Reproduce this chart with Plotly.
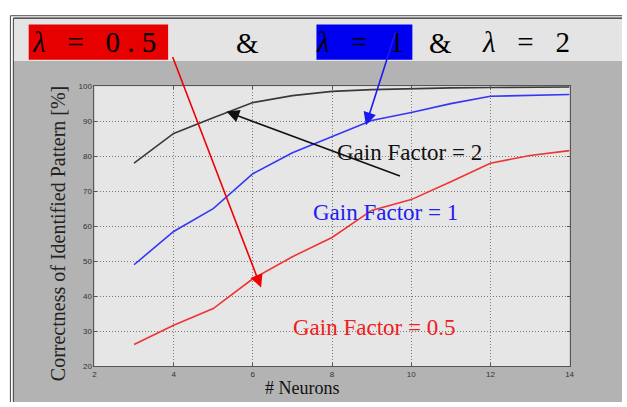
import plotly.graph_objects as go

W, H = 627, 407

neurons = [3, 4, 5, 6, 7, 8, 9, 10, 11, 12, 13, 14]
gain_2 = [78, 86.5, 91, 95.3, 97.3, 98.5, 99, 99.3, 99.5, 99.6, 99.7, 99.8]
gain_1 = [49, 58.5, 65, 75, 81, 85.7, 90.2, 92.5, 95, 97.1, 97.3, 97.6]
gain_05 = [26.2, 31.7, 36.5, 45, 51.3, 56.8, 64.5, 67.6, 72.7, 78, 80.2, 81.6]

x_ticks = [2, 4, 6, 8, 10, 12, 14]
y_ticks = [20, 30, 40, 50, 60, 70, 80, 90, 100]

SERIF = "Liberation Serif, Times New Roman, serif"


def px(x):
    return x / W


def py(y):
    return 1 - y / H


fig = go.Figure()
fig.add_trace(go.Scatter(x=neurons, y=gain_2, mode="lines",
                         line=dict(color="#3a3a3a", width=1.6), showlegend=False))
fig.add_trace(go.Scatter(x=neurons, y=gain_1, mode="lines",
                         line=dict(color="#3636f5", width=1.6), showlegend=False))
fig.add_trace(go.Scatter(x=neurons, y=gain_05, mode="lines",
                         line=dict(color="#f03434", width=1.6), showlegend=False))

shapes = [
    # dark gray figure background
    dict(type="rect", xref="paper", yref="paper", x0=px(11), x1=1, y0=0, y1=py(58),
         fillcolor="#b3b3b3", line=dict(width=0), layer="below"),
    # plot area background
    dict(type="rect", xref="paper", yref="paper", x0=px(93.5), x1=px(574), y0=py(370.5), y1=py(84),
         fillcolor="#e6e6e6", line=dict(width=0), layer="below"),
    # light header band
    dict(type="rect", xref="paper", yref="paper", x0=px(11), x1=1, y0=py(58), y1=py(15),
         fillcolor="#e4e4e4", line=dict(width=0), layer="below"),
    # frame lines
    dict(type="line", xref="paper", yref="paper", x0=px(8.5), x1=px(8.5), y0=0, y1=py(12),
         line=dict(color="#444", width=1), layer="below"),
    dict(type="line", xref="paper", yref="paper", x0=px(11.5), x1=px(11.5), y0=0, y1=py(14.5),
         line=dict(color="#444", width=1), layer="below"),
    dict(type="line", xref="paper", yref="paper", x0=px(8.5), x1=1, y0=py(12), y1=py(12),
         line=dict(color="#444", width=1), layer="below"),
    dict(type="line", xref="paper", yref="paper", x0=px(11.5), x1=1, y0=py(14.5), y1=py(14.5),
         line=dict(color="#222", width=1.2), layer="below"),
    # header boxes
    dict(type="rect", xref="paper", yref="paper", x0=px(27), x1=px(168), y0=py(57), y1=py(21),
         fillcolor="#e60000", line=dict(width=0), layer="below"),
    dict(type="rect", xref="paper", yref="paper", x0=px(318), x1=px(415), y0=py(57), y1=py(21),
         fillcolor="#0000f0", line=dict(width=0), layer="below"),
]

NB = "\u00a0"
annotations = [
    dict(text="<i>λ</i>" + NB * 3 + "=" + NB * 3 + "0" + NB + "." + NB + "5", x=px(93), y=py(39)),
    dict(text="&", x=px(248), y=py(40)),
    dict(text="<i>λ</i>" + NB * 3 + "=" + NB * 3 + "1", x=px(362), y=py(39)),
    dict(text="&", x=px(443), y=py(40)),
    dict(text="<i>λ</i>" + NB * 3 + "=" + NB * 3 + "2", x=px(530), y=py(39)),
]
for a in annotations:
    a.update(xref="paper", yref="paper", showarrow=False, xanchor="center", yanchor="middle",
             font=dict(family=SERIF, size=29, color="black"))

labels = [
    dict(text="Gain Factor = 2", x=px(337), y=py(152), color="#111"),
    dict(text="Gain Factor = 1", x=px(312), y=py(213), color="#2020f0"),
    dict(text="Gain Factor = 0.5", x=px(292), y=py(331), color="#ee2020"),
]
for l in labels:
    annotations.append(dict(text=l["text"], x=l["x"], y=l["y"], xref="paper", yref="paper",
                            showarrow=False, xanchor="left", yanchor="middle",
                            font=dict(family=SERIF, size=23, color=l["color"])))

annotations.append(dict(text="# Neurons", x=px(304), y=py(393), xref="paper", yref="paper",
                        showarrow=False, xanchor="center", yanchor="middle",
                        font=dict(family=SERIF, size=18, color="#111")))
annotations.append(dict(text="Correctness of Identified Pattern [%]", x=px(56), y=py(235),
                        xref="paper", yref="paper", textangle=-90,
                        showarrow=False, xanchor="center", yanchor="middle",
                        font=dict(family=SERIF, size=20, color="#222")))

arrows = [
    ((262, 290), (173, 58), "#f00000"),
    ((368, 124), (398, 30), "#1a1af0"),
    ((227, 110), (402, 175), "#111111"),
]
for (tx, ty), (sx, sy), col in arrows:
    annotations.append(dict(text="", x=px(tx), y=py(ty), xref="paper", yref="paper",
                            ax=sx - tx, ay=sy - ty, showarrow=True, arrowhead=2,
                            arrowsize=1.6, arrowwidth=1.6, arrowcolor=col, standoff=0))

axis_common = dict(
    showgrid=True, gridcolor="#7a7a7a", griddash="1px,2px", gridwidth=1,
    zeroline=False, showline=True, linecolor="#555", linewidth=1,
    mirror="ticks", ticks="inside", ticklen=3, tickcolor="#555",
    tickfont=dict(family="Arial, Liberation Sans", size=8, color="#333"),
)

fig.update_layout(
    width=W, height=H, autosize=False,
    margin=dict(l=0, r=0, t=0, b=0, pad=0),
    paper_bgcolor="white", plot_bgcolor="#e6e6e6",
    shapes=shapes, annotations=annotations,
    xaxis=dict(domain=[px(93.5), px(574)], range=[2, 14], tickvals=x_ticks, **axis_common),
    yaxis=dict(domain=[py(370.5), py(84)], range=[20, 100], tickvals=y_ticks, **axis_common),
)

fig.write_html("out.html")
